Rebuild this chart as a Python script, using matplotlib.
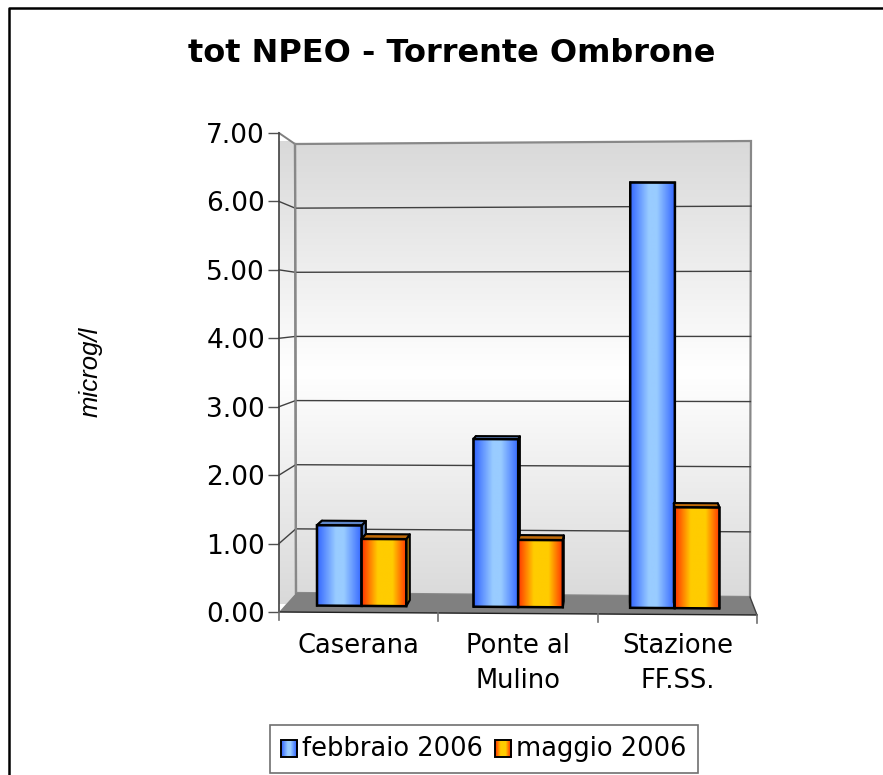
import numpy as np
import matplotlib
matplotlib.use("Agg")
import matplotlib.pyplot as plt
from matplotlib.colors import LinearSegmentedColormap
from matplotlib.legend_handler import HandlerBase
from matplotlib.lines import Line2D
from matplotlib.patches import Patch, Polygon, Rectangle

categories = ["Caserana", "Ponte al\nMulino", "Stazione\nFF.SS."]
febbraio = [1.2, 2.5, 6.33]
maggio = [1.0, 1.0, 1.5]
series_names = ["febbraio 2006", "maggio 2006"]
y_ticks = [0, 1, 2, 3, 4, 5, 6, 7]

W, H = 883, 775
AX_L, AX_R, AX_B, AX_T = 279, 757, 612, 133

blue_map = LinearSegmentedColormap.from_list(
    "b", [(0, "#3366ff"), (0.42, "#99ccff"), (0.6, "#99ccff"), (1, "#3366ff")])
orange_map = LinearSegmentedColormap.from_list(
    "o", [(0, "#ff3300"), (0.35, "#ffcc00"), (0.68, "#ffcc00"), (1, "#ff3300")])
wall_map = LinearSegmentedColormap.from_list("w", ["#d9d9d9", "#ffffff", "#d9d9d9"])

fig = plt.figure(figsize=(W / 100, H / 100), dpi=100)
ax = fig.add_axes([AX_L / W, 1 - AX_B / H, (AX_R - AX_L) / W, (AX_B - AX_T) / H])
ax.set_xlim(0, 3)
ax.set_ylim(0, 7)
ax.patch.set_visible(False)
for s in ax.spines.values():
    s.set_visible(False)

# pixel size of one data unit, the 3d corners are kept in pixels of the picture
ux = (AX_R - AX_L) / 3
uy = (AX_B - AX_T) / 7
front_corners = {"bl": (279, 612), "br": (757, 615), "tl": (279, 133), "tr": (757, 136)}
back_corners = {"bl": (296, 593), "br": (750, 597), "tl": (295, 144), "tr": (751, 141)}


def project(x, y, d):
    # trilinear map of category position, value, depth -> data coords of ax
    u, v = x / 3, y / 7
    def corner(c):
        bot = (1 - u) * np.array(c["bl"]) + u * np.array(c["br"])
        top = (1 - u) * np.array(c["tl"]) + u * np.array(c["tr"])
        return (1 - v) * bot + v * top
    p = (1 - d) * corner(front_corners) + d * corner(back_corners)
    return (p[0] - AX_L) / ux, (AX_B - p[1]) / uy


def face(pts, **kw):
    p = Polygon([project(*q) for q in pts], closed=True, clip_on=False, **kw)
    ax.add_patch(p)
    return p


def gradient(patch, data, cmap, extent, z):
    im = ax.imshow(data, cmap=cmap, extent=extent, aspect="auto", zorder=z,
                   vmin=0, vmax=1, interpolation="bilinear")
    im.set_clip_path(patch)
    return im


# walls
ramp = np.linspace(0, 1, 256).reshape(-1, 1)
wall = face([(0, 0, 1), (3, 0, 1), (3, 7, 1), (0, 7, 1)], fc="none", ec="#888888", lw=1.6, zorder=2)
side = face([(0, 0, 0), (0, 0, 1), (0, 7, 1), (0, 7, 0)], fc="none", ec="none", zorder=2)
x0, _ = project(0, 0, 0)
x1, _ = project(3, 0, 1)
_, y0 = project(3, 0, 1)
_, y1 = project(3, 7, 1)
gradient(wall, ramp, wall_map, (x0, x1, y0 - 0.1, y1), 1)
gradient(side, ramp, wall_map, (x0, x1, y0 - 0.1, y1), 1)
face([(0, 0, 0), (3, 0, 0), (3, 0, 1), (0, 0, 1)], fc="#808080", ec="none", zorder=3)

# grid
for v in y_ticks[1:-1]:
    a, b, c = project(0, v, 0), project(0, v, 1), project(3, v, 1)
    ax.plot([a[0], b[0], c[0]], [a[1], b[1], c[1]], color="#404040", lw=1.0, zorder=2.5, clip_on=False)
a, b = project(0, 7, 0), project(0, 7, 1)
ax.plot([a[0], b[0]], [a[1], b[1]], color="#808080", lw=1.4, zorder=2.5, clip_on=False)
a, b = project(0, 0, 1), project(0, 7, 1)
ax.plot([a[0], b[0]], [a[1], b[1]], color="#888888", lw=1.6, zorder=2.5, clip_on=False)
a, b = project(0, 0, 0), project(0, 7, 0)
ax.plot([a[0], b[0]], [a[1], b[1]], color="#404040", lw=1.2, zorder=4, clip_on=False)
a, b = project(0, 0, 0), project(3, 0, 0)
ax.plot([a[0], b[0]], [a[1], b[1]], color="#202020", lw=1.0, zorder=4, clip_on=False)
a, b = project(3, 0, 0), project(3, 0, 1)
ax.plot([a[0], b[0]], [a[1], b[1]], color="#404040", lw=1.0, zorder=4, clip_on=False)

# bars
bar_w = 0.285
d_front, d_back = 0.35, 0.68
hstrip = np.linspace(0, 1, 256).reshape(1, -1)


def draw_bar(xa, xb, val, cmap, side_col, top_col, z):
    for pts, col in (
        ([(xa, 0, d_front), (xa, 0, d_back), (xa, val, d_back), (xa, val, d_front)], side_col),
        ([(xb, 0, d_front), (xb, 0, d_back), (xb, val, d_back), (xb, val, d_front)], side_col),
        ([(xa, val, d_front), (xb, val, d_front), (xb, val, d_back), (xa, val, d_back)], top_col),
    ):
        face(pts, fc=col, ec="black", lw=1.5, zorder=z, joinstyle="round")
    front = face([(xa, 0, d_front), (xb, 0, d_front), (xb, val, d_front), (xa, val, d_front)],
                 fc="none", ec="black", lw=1.8, zorder=z + 0.2, joinstyle="miter")
    pa, pb = project(xa, 0, d_front), project(xb, val, d_front)
    gradient(front, hstrip, cmap, (pa[0], pb[0], pa[1] - 0.1, pb[1] + 0.1), z + 0.1)


for i in range(len(categories)):
    c = i + 0.5 - 0.01
    draw_bar(c - bar_w, c, febbraio[i], blue_map, "#5578b0", "#5f86c8", 5 + i)
    draw_bar(c, c + bar_w, maggio[i], orange_map, "#b88a10", "#c06a08", 5.5 + i)

# axes ticks and labels
ax.set_yticks(y_ticks)
ax.set_yticklabels([f"{v:.2f}" for v in y_ticks], fontsize=19, color="black")
ax.tick_params(axis="y", length=8, width=1.0, color="#505050", pad=2)
ax.set_xticks([i + 0.5 for i in range(len(categories))])
ax.set_xticklabels(categories, fontsize=18.5, color="black", linespacing=1.45)
ax.tick_params(axis="x", length=0, pad=15)
for k in range(len(categories) + 1):
    a = project(k, 0, 0)
    ax.plot([a[0], a[0]], [a[1], a[1] - 8 / uy], color="#707070", lw=1.2, clip_on=False, zorder=4)
ax.set_xlim(0, 3)
ax.set_ylim(0, 7)

fig.text(452 / W, 1 - 54 / H, "tot NPEO - Torrente Ombrone", fontsize=23, fontweight="bold",
         ha="center", va="center")
fig.text(91 / W, 1 - 372 / H, "microg/l", fontsize=18.5, style="italic", family="Liberation Sans",
         rotation=90, ha="center", va="center")

# frame of the chart, open on the right and the bottom
fig.add_artist(Line2D([8.5 / W, 8.5 / W, 1], [0, 1 - 8 / H, 1 - 8 / H], color="black", lw=1.8))


class GradientHandle(HandlerBase):
    def create_artists(self, legend, orig, xd, yd, width, height, fontsize, trans):
        cmap = orig.get_label_cmap()
        n = 16
        arts = []
        for j in range(n):
            r = Rectangle((xd + width * j / n, yd), width / n + 0.3, height,
                          fc=cmap(j / (n - 1)), ec="none", transform=trans)
            arts.append(r)
        arts.append(Rectangle((xd, yd), width, height, fc="none", ec="black", lw=1.4, transform=trans))
        return arts


class GradPatch(Patch):
    def __init__(self, cmap, **kw):
        super().__init__(**kw)
        self._cmap = cmap

    def get_label_cmap(self):
        return self._cmap


handles = [GradPatch(blue_map), GradPatch(orange_map)]
leg = fig.legend(handles, series_names, ncol=2, loc="center",
                 bbox_to_anchor=(484 / W, 1 - 749 / H), fontsize=18.5, frameon=True, fancybox=False,
                 edgecolor="#707070", framealpha=1, handlelength=0.62, handleheight=0.62,
                 handletextpad=0.2, columnspacing=0.47, borderpad=0.42, borderaxespad=0,
                 handler_map={GradPatch: GradientHandle()})
leg.get_frame().set_linewidth(1.2)

fig.savefig("out.png", dpi=100)
